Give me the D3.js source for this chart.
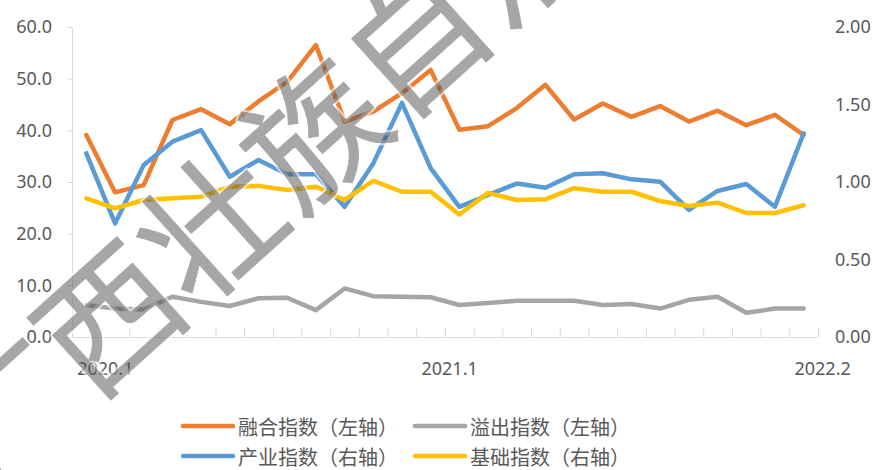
<!DOCTYPE html>
<html>
<head>
<meta charset="utf-8">
<script src="https://cdn.jsdelivr.net/npm/d3@7"></script>
<style>
  body { margin: 0; background: #fff; }
  text { font-family: "Noto Sans", "Noto Sans CJK SC", sans-serif; }
</style>
</head>
<body>
<div id="container"></div>
<script>
const months = ["2020.1","2020.2","2020.3","2020.4","2020.5","2020.6","2020.7","2020.8","2020.9","2020.10","2020.11","2020.12",
  "2021.1","2021.2","2021.3","2021.4","2021.5","2021.6","2021.7","2021.8","2021.9","2021.10","2021.11","2021.12",
  "2022.1","2022.2"];
const xLabels = ["2020.1", "2021.1", "2022.2"];
const leftTicks = [0, 10, 20, 30, 40, 50, 60];
const rightTicks = [0, 0.5, 1, 1.5, 2];

// left axis
const fusion = [39.1, 28.0, 29.4, 42.0, 44.1, 41.2, 45.6, 49.4, 56.5, 41.7, 43.6, 47.2, 51.7,
  40.1, 40.8, 44.3, 48.8, 42.1, 45.2, 42.6, 44.7, 41.7, 43.8, 41.0, 43.0, 39.1];
const spill = [6.2, 5.5, 5.3, 7.8, 6.8, 6.0, 7.5, 7.6, 5.2, 9.4, 7.9, 7.8, 7.7,
  6.2, 6.6, 7.0, 7.0, 7.0, 6.2, 6.4, 5.5, 7.2, 7.8, 4.7, 5.5, 5.5];
// right axis
const industry = [1.185, 0.733, 1.11, 1.26, 1.335, 1.034, 1.142, 1.05, 1.05, 0.84, 1.12, 1.51, 1.09,
  0.84, 0.916, 0.99, 0.963, 1.05, 1.056, 1.017, 1.002, 0.82, 0.942, 0.987, 0.84, 1.314];
const base = [0.895, 0.83, 0.884, 0.895, 0.905, 0.97, 0.975, 0.948, 0.97, 0.884, 1.008, 0.937, 0.937,
  0.79, 0.93, 0.884, 0.888, 0.96, 0.937, 0.937, 0.877, 0.845, 0.867, 0.80, 0.80, 0.85];

const series = [
  { name: "融合指数（左轴）", values: fusion, color: "#ED7D31", axis: "left" },
  { name: "溢出指数（左轴）", values: spill, color: "#A5A5A5", axis: "left" },
  { name: "产业指数（右轴）", values: industry, color: "#5B9BD5", axis: "right" },
  { name: "基础指数（右轴）", values: base, color: "#FFC000", axis: "right" }
];

const w = 877;
const h = 470;
const plotL = 72, plotR = 818, plotT = 27, plotB = 337;

const svg = d3.select("#container")
  .append("svg")
  .attr("width", w)
  .attr("height", h);

const xScale = d3.scaleBand()
  .domain(months)
  .range([plotL, plotR]);

const xEdge = d3.scaleLinear()
  .domain([0, months.length])
  .range([plotL, plotR]);

const yLeft = d3.scaleLinear().domain([0, 60]).range([plotB, plotT]);
const yRight = d3.scaleLinear().domain([0, 2]).range([plotB, plotT]);

// left axis
const gl = svg.append("g")
  .attr("transform", "translate(" + plotL + ",0)")
  .call(d3.axisLeft(yLeft).tickValues(leftTicks).tickFormat(d3.format(".1f")).tickSize(5).tickPadding(15));
gl.select(".domain").attr("stroke", "#d9d9d9");
gl.selectAll(".tick line").attr("stroke", "#d9d9d9");
gl.selectAll(".tick text").attr("fill", "#595959").style("font-size", "18px");

// right axis (labels only)
const gr = svg.append("g")
  .attr("transform", "translate(" + plotR + ",0)")
  .call(d3.axisRight(yRight).tickValues(rightTicks).tickFormat(d3.format(".2f")).tickSize(0).tickPadding(17));
gr.select(".domain").remove();
gr.selectAll(".tick text").attr("fill", "#595959").style("font-size", "18px");

// x axis with boundary ticks pointing up
const gx = svg.append("g")
  .attr("transform", "translate(0," + plotB + ")")
  .call(d3.axisBottom(xEdge).tickValues(d3.range(months.length + 1)).tickSizeInner(-9).tickSizeOuter(0).tickFormat(""));
gx.select(".domain").attr("stroke", "#d9d9d9");
gx.selectAll(".tick line").attr("stroke", "#d9d9d9");

svg.append("g")
  .selectAll("text")
  .data(xLabels)
  .enter()
  .append("text")
  .attr("x", (d) => xScale(d) + xScale.bandwidth() / 2 + 19)
  .attr("y", 368)
  .attr("text-anchor", "middle")
  .attr("dominant-baseline", "central")
  .attr("fill", "#595959")
  .style("font-size", "18px")
  .text((d) => d);

// lines
series.forEach((s) => {
  const y = s.axis === "left" ? yLeft : yRight;
  const line = d3.line()
    .x((d, i) => xScale(months[i]) + xScale.bandwidth() / 2)
    .y((d) => y(d));
  svg.append("path")
    .datum(s.values)
    .attr("fill", "none")
    .attr("stroke", s.color)
    .attr("stroke-width", 4.5)
    .attr("stroke-linejoin", "round")
    .attr("stroke-linecap", "round")
    .attr("d", line);
});

// legend
const legendPos = [[183, 426], [415, 426], [183, 456], [415, 456]];
const legend = svg.append("g")
  .selectAll("g")
  .data(series)
  .enter()
  .append("g")
  .attr("transform", (d, i) => "translate(" + legendPos[i][0] + "," + legendPos[i][1] + ")");
legend.append("line")
  .attr("x1", 0).attr("x2", 50)
  .attr("stroke", (d) => d.color)
  .attr("stroke-width", 4.5)
  .attr("stroke-linecap", "round");
legend.append("text")
  .attr("x", 55)
  .attr("dominant-baseline", "central")
  .attr("fill", "#595959")
  .style("font-size", "20px")
  .style("font-family", "'Noto Sans CJK SC', sans-serif")
  .text((d) => d.name);

// watermark
const wmText = "广西壮族自治区";
const wm = svg.append("g")
  .attr("transform", "translate(0,405) rotate(-42)");
wm.append("text")
  .attr("x", -68)
  .attr("dominant-baseline", "central")
  .style("font-size", "138px")
  .style("font-family", "'Noto Sans CJK SC', sans-serif")
  .attr("fill", "none")
  .attr("stroke", "#fff")
  .attr("stroke-width", 5)
  .attr("stroke-opacity", 0.6)
  .attr("stroke-linejoin", "round")
  .text(wmText);
wm.append("g")
  .attr("opacity", 0.5)
  .append("text")
  .attr("x", -68)
  .attr("dominant-baseline", "central")
  .style("font-size", "138px")
  .style("font-family", "'Noto Sans CJK SC', sans-serif")
  .attr("fill", "rgb(80,80,80)")
  .attr("stroke", "rgb(80,80,80)")
  .attr("stroke-width", 0.8)
  .attr("stroke-linejoin", "round")
  .text(wmText);
</script>
</body>
</html>
